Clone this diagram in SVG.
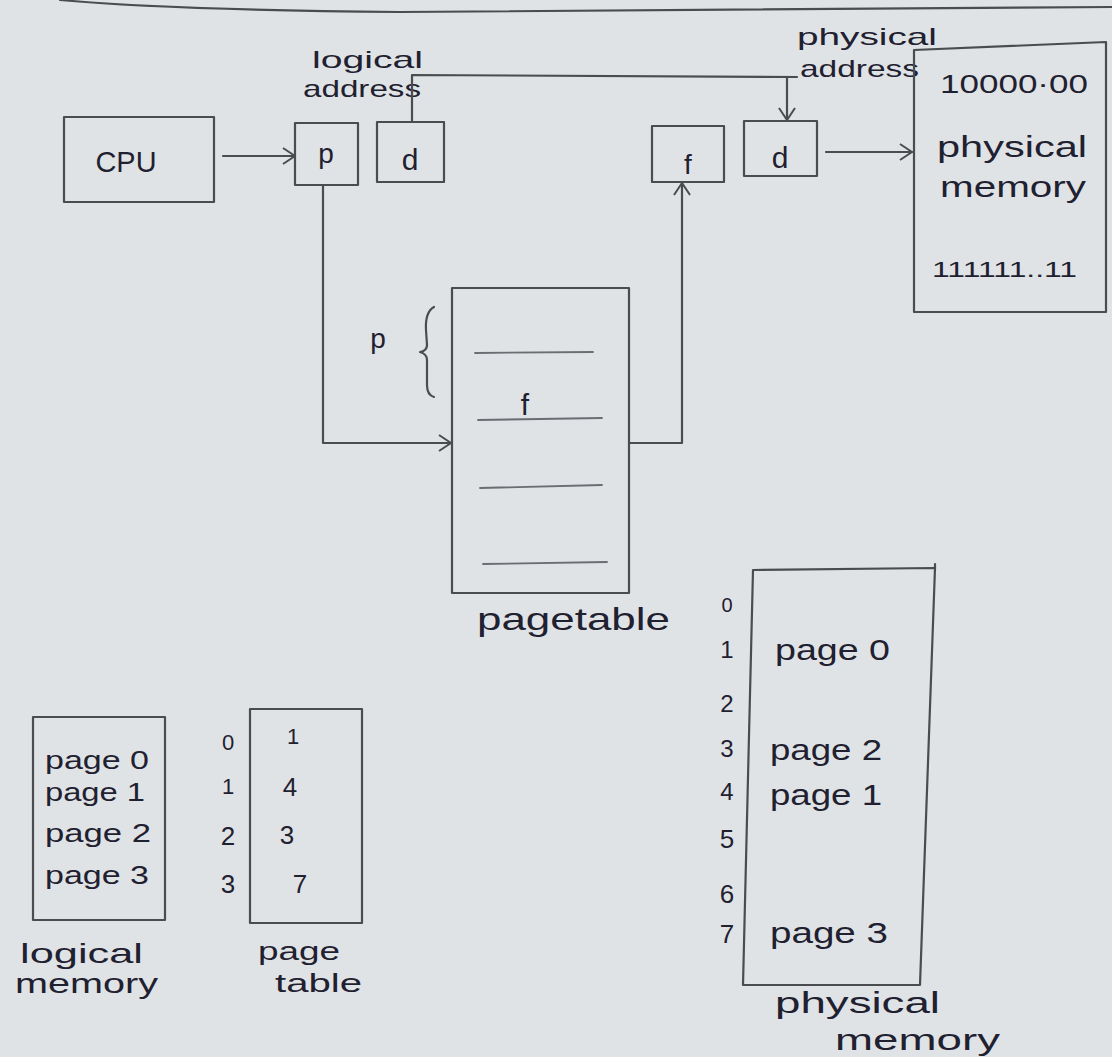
<svg xmlns="http://www.w3.org/2000/svg" width="1112" height="1057" viewBox="0 0 1112 1057">
<style>
.ln{fill:none;stroke:#4a4c50;stroke-width:2.2;stroke-linecap:round;stroke-linejoin:round}
.rw{fill:none;stroke:#6a6d72;stroke-width:1.8;stroke-linecap:round}
.t{font-family:"Liberation Sans",Arial,sans-serif;fill:#1f2030}
</style>
<defs>
<marker id="arr" viewBox="0 0 14 18" refX="13" refY="9" markerWidth="14" markerHeight="18" markerUnits="userSpaceOnUse" orient="auto">
<path d="M1,1 L13,9 L1,17" fill="none" stroke="#4a4c50" stroke-width="2"/>
</marker>
</defs>
<rect width="1112" height="1057" fill="#dfe3e5"/>
<path class="ln" d="M60 0 Q170 10 400 12 L1112 7"/>

<g id="cpu">
<rect class="ln" x="64" y="117" width="150" height="85"/>
<text class="t" x="126" y="172" font-size="30" text-anchor="middle" textLength="61" lengthAdjust="spacingAndGlyphs">CPU</text>
</g>

<g id="logical-address">
<text class="t" x="312" y="68" font-size="24" textLength="111" lengthAdjust="spacingAndGlyphs">logical</text>
<text class="t" x="303" y="97" font-size="24" textLength="118" lengthAdjust="spacingAndGlyphs">address</text>
</g>

<g id="p-box">
<rect class="ln" x="295" y="123" width="63" height="62"/>
<text class="t" x="326" y="163" font-size="28" text-anchor="middle">p</text>
</g>

<g id="d-box">
<rect class="ln" x="377" y="122" width="67" height="60"/>
<text class="t" x="410" y="170" font-size="30" text-anchor="middle">d</text>
</g>

<g id="physical-address">
<text class="t" x="797" y="45" font-size="24" textLength="140" lengthAdjust="spacingAndGlyphs">physical</text>
<text class="t" x="800" y="77" font-size="24" textLength="119" lengthAdjust="spacingAndGlyphs">address</text>
</g>

<g id="f-box">
<rect class="ln" x="652" y="126" width="72" height="56"/>
<text class="t" x="688" y="174" font-size="28" text-anchor="middle">f</text>
</g>

<g id="d-box-2">
<rect class="ln" x="744" y="121" width="73" height="55"/>
<text class="t" x="780" y="168" font-size="30" text-anchor="middle">d</text>
</g>

<g id="physical-memory-top">
<path class="ln" d="M914 50 L1106 42 L1106 312 L914 312 Z"/>
<text class="t" x="940" y="93" font-size="26" textLength="148" lengthAdjust="spacingAndGlyphs">10000·00</text>
<text class="t" x="937" y="157" font-size="30" textLength="150" lengthAdjust="spacingAndGlyphs">physical</text>
<text class="t" x="940" y="197" font-size="30" textLength="146" lengthAdjust="spacingAndGlyphs">memory</text>
<text class="t" x="932" y="277" font-size="22" textLength="145" lengthAdjust="spacingAndGlyphs">111111..11</text>
</g>

<g id="page-table-main">
<rect class="ln" x="452" y="288" width="177" height="305"/>
<line class="rw" x1="475" y1="353" x2="593" y2="352"/>
<line class="rw" x1="478" y1="420" x2="602" y2="418"/>
<line class="rw" x1="480" y1="488" x2="602" y2="485"/>
<line class="rw" x1="483" y1="564" x2="607" y2="562"/>
<text class="t" x="525" y="415" font-size="30" text-anchor="middle">f</text>
<text class="t" x="378" y="348" font-size="28" text-anchor="middle">p</text>
<path class="ln" d="M434 307 Q425 312 426 330 L427 345 Q427 351 420 352 Q427 354 427 360 L427 385 Q427 395 434 397"/>
<text class="t" x="477" y="630" font-size="32" textLength="193" lengthAdjust="spacingAndGlyphs">pagetable</text>
</g>

<g id="connectors">
<path class="ln" d="M223 156 H295" marker-end="url(#arr)"/>
<path class="ln" d="M412 122 V75 L797 77"/>
<path class="ln" d="M787 77 V120" marker-end="url(#arr)"/>
<path class="ln" d="M323 185 V443 H451" marker-end="url(#arr)"/>
<path class="ln" d="M629 443 H682 V183" marker-end="url(#arr)"/>
<path class="ln" d="M826 152 H912" marker-end="url(#arr)"/>
</g>

<g id="logical-memory">
<rect class="ln" x="33" y="717" width="132" height="203"/>
<text class="t" x="45" y="769" font-size="26" textLength="104" lengthAdjust="spacingAndGlyphs">page 0</text>
<text class="t" x="45" y="801" font-size="26" textLength="100" lengthAdjust="spacingAndGlyphs">page 1</text>
<text class="t" x="45" y="842" font-size="26" textLength="106" lengthAdjust="spacingAndGlyphs">page 2</text>
<text class="t" x="45" y="884" font-size="26" textLength="104" lengthAdjust="spacingAndGlyphs">page 3</text>
<text class="t" x="20" y="963" font-size="28" textLength="123" lengthAdjust="spacingAndGlyphs">logical</text>
<text class="t" x="15" y="993" font-size="28" textLength="143" lengthAdjust="spacingAndGlyphs">memory</text>
</g>

<g id="page-table-small">
<text class="t" x="228" y="750" font-size="22" text-anchor="middle">0</text>
<text class="t" x="228" y="794" font-size="22" text-anchor="middle">1</text>
<text class="t" x="228" y="845" font-size="26" text-anchor="middle">2</text>
<text class="t" x="228" y="893" font-size="26" text-anchor="middle">3</text>
<rect class="ln" x="250" y="709" width="112" height="214"/>
<text class="t" x="293" y="744" font-size="22" text-anchor="middle">1</text>
<text class="t" x="290" y="796" font-size="26" text-anchor="middle">4</text>
<text class="t" x="287" y="844" font-size="26" text-anchor="middle">3</text>
<text class="t" x="300" y="893" font-size="26" text-anchor="middle">7</text>
<text class="t" x="258" y="960" font-size="26" textLength="82" lengthAdjust="spacingAndGlyphs">page</text>
<text class="t" x="275" y="992" font-size="26" textLength="87" lengthAdjust="spacingAndGlyphs">table</text>
</g>

<g id="physical-memory-bottom">
<path class="ln" d="M753 570 L935 568 L920 985 L743 985 Z"/>
<path class="ln" d="M935 568 L935 564"/>
<text class="t" x="727" y="612" font-size="20" text-anchor="middle">0</text>
<text class="t" x="727" y="658" font-size="24" text-anchor="middle">1</text>
<text class="t" x="727" y="712" font-size="24" text-anchor="middle">2</text>
<text class="t" x="727" y="757" font-size="24" text-anchor="middle">3</text>
<text class="t" x="727" y="800" font-size="24" text-anchor="middle">4</text>
<text class="t" x="727" y="848" font-size="26" text-anchor="middle">5</text>
<text class="t" x="727" y="903" font-size="26" text-anchor="middle">6</text>
<text class="t" x="727" y="943" font-size="26" text-anchor="middle">7</text>
<text class="t" x="775" y="660" font-size="30" textLength="115" lengthAdjust="spacingAndGlyphs">page 0</text>
<text class="t" x="770" y="760" font-size="30" textLength="112" lengthAdjust="spacingAndGlyphs">page 2</text>
<text class="t" x="770" y="805" font-size="30" textLength="112" lengthAdjust="spacingAndGlyphs">page 1</text>
<text class="t" x="770" y="943" font-size="30" textLength="118" lengthAdjust="spacingAndGlyphs">page 3</text>
<text class="t" x="775" y="1013" font-size="30" textLength="165" lengthAdjust="spacingAndGlyphs">physical</text>
<text class="t" x="835" y="1050" font-size="30" textLength="165" lengthAdjust="spacingAndGlyphs">memory</text>
</g>
</svg>
